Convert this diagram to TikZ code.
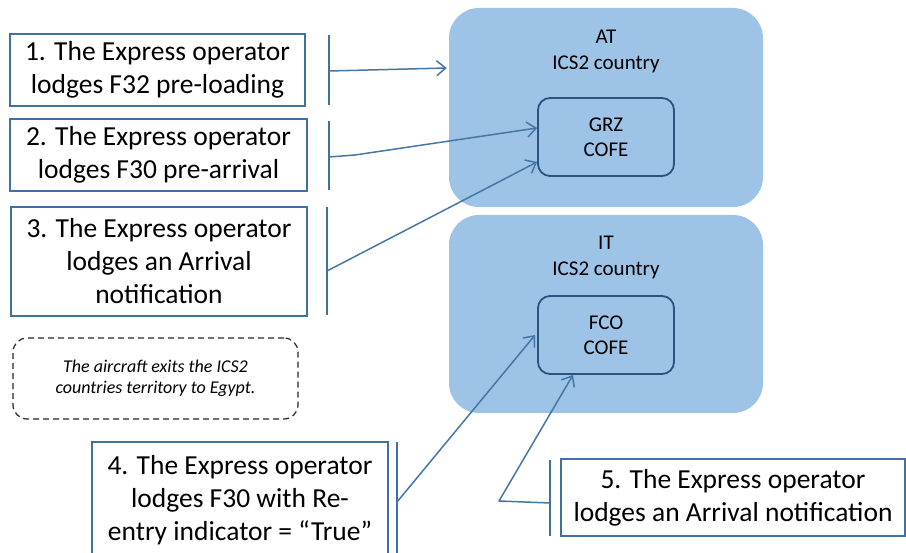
\documentclass[tikz,border=0pt]{standalone}
\usepackage{fontspec}
\setmainfont{Carlito}
\usetikzlibrary{arrows.meta}
\definecolor{fillblue}{RGB}{157,195,230}
\definecolor{edgeblue}{RGB}{65,113,156}
\definecolor{darkblue}{RGB}{44,82,126}
\definecolor{arrowblue}{RGB}{70,118,165}
\begin{document}
\begin{tikzpicture}[x=1pt,y=-1pt,
  stepbox/.style={draw=edgeblue, line width=2pt, fill=white, align=center,
    font=\fontsize{27.5}{33}\selectfont, inner sep=0pt},
  countrybox/.style={fill=fillblue, rounded corners=30pt, inner sep=0pt},
  cofebox/.style={draw=darkblue, line width=1.8pt, fill=fillblue, rounded corners=12pt,
    align=center, font=\fontsize{21}{25}\selectfont, inner sep=0pt},
  lbltext/.style={align=center, font=\fontsize{21}{26}\selectfont, inner sep=0pt},
  barline/.style={draw=edgeblue, line width=2pt},
  conn/.style={draw=arrowblue, line width=1.5pt, line join=round,
    -{Straight Barb[length=9pt,width=15pt,line width=1.5pt]}},
  notebox/.style={draw=black!85, line width=1.2pt, dash pattern=on 6pt off 4pt,
    rounded corners=14pt, align=center, inner sep=0pt,
    font=\itshape\fontsize{18}{21}\selectfont}
]
\useasboundingbox (0,0) rectangle (906,553);

% country areas
\node[countrybox, minimum width=314pt, minimum height=199pt] (at) at (606,107.5) {};
\node[countrybox, minimum width=314pt, minimum height=198pt] (it) at (606,314) {};
\node[lbltext] (atl) at (606,51) {AT\\ICS2 country};
\node[lbltext] (itl) at (606,257.5) {IT\\ICS2 country};
\node[cofebox, minimum width=136pt, minimum height=78pt] (grz) at (606,137) {GRZ\\COFE};
\node[cofebox, minimum width=136pt, minimum height=78pt] (fco) at (606,335) {FCO\\COFE};

% step boxes
\node[stepbox, minimum width=295pt, minimum height=72pt] (s1) at (157.5,70)
  {1. The Express operator\\lodges F32 pre-loading};
\node[stepbox, minimum width=297pt, minimum height=72pt] (s2) at (158.5,155)
  {2. The Express operator\\lodges F30 pre-arrival};
\node[stepbox, minimum width=296pt, minimum height=109pt] (s3) at (159,261.5)
  {3. The Express operator\\lodges an Arrival\\notification};
\node[stepbox, minimum width=296pt, minimum height=116pt] (s4) at (240,500)
  {4. The Express operator\\lodges F30 with Re-\\entry indicator = “True”};
\node[stepbox, minimum width=344pt, minimum height=77pt] (s5) at (733,497.5)
  {5. The Express operator\\lodges an Arrival notification};

% note
\node[notebox, minimum width=285pt, minimum height=81pt] (note) at (155.5,378.5)
  {The aircraft exits the ICS2\\countries territory to Egypt.};

% bracket bars
\coordinate (b1t) at (329,35);  \coordinate (b1b) at (329,105); \coordinate (b1m) at (329,71);
\coordinate (b2t) at (329,121); \coordinate (b2b) at (329,190); \coordinate (b2m) at (329,157);
\coordinate (b3t) at (327,207); \coordinate (b3b) at (327,315); \coordinate (b3m) at (327,271);
\coordinate (b4t) at (397,442); \coordinate (b4b) at (397,553); \coordinate (b4m) at (397,502);
\coordinate (b5t) at (550,460); \coordinate (b5b) at (550,536); \coordinate (b5m) at (550,503);
\coordinate (b2k) at (355,155);
\coordinate (b5k) at (499,501);
\foreach \i in {1,...,5} { \draw[barline] (b\i t) -- (b\i b); }

% connectors
\draw[conn] (b1m) -- ([yshift=39.5pt,xshift=-2pt]at.west);
\draw[conn] (b2m) -- (b2k) -- ([yshift=9pt]grz.west);
\draw[conn] (b3m) -- ([yshift=-25pt]grz.west);
\draw[conn] (b4m) -- ([xshift=-2pt]fco.west);
\draw[conn] (b5m) -- (b5k) -- ([xshift=-33pt]fco.south);
\end{tikzpicture}
\end{document}
